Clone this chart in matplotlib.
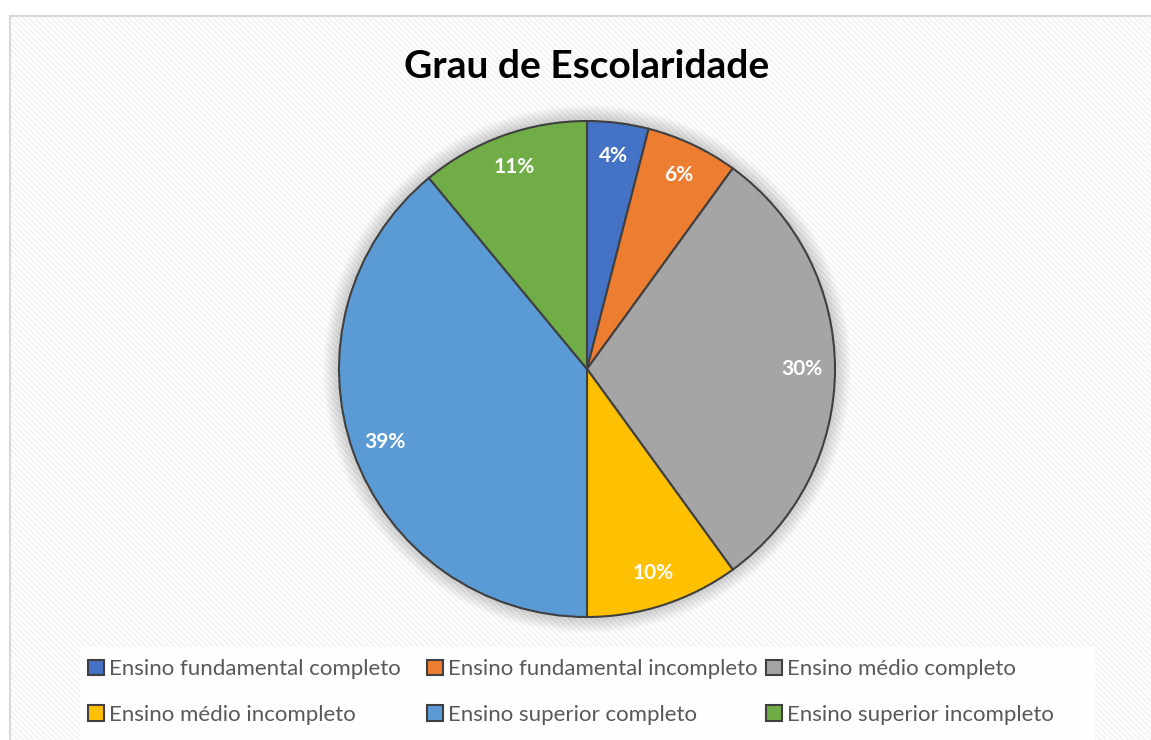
import matplotlib
matplotlib.use("Agg")
import matplotlib.pyplot as plt
from matplotlib.patches import Rectangle, Circle
from matplotlib.lines import Line2D

# dados
categorias = [
    "Ensino fundamental completo",
    "Ensino fundamental incompleto",
    "Ensino médio completo",
    "Ensino médio incompleto",
    "Ensino superior completo",
    "Ensino superior incompleto",
]
percentuais = [4, 6, 30, 10, 39, 11]
cores = ["#4472C4", "#ED7D31", "#A5A5A5", "#FFC000", "#5B9BD5", "#70AD47"]
titulo = "Grau de Escolaridade"

W, H = 1151, 740
plt.rcParams["font.family"] = ["Lato", "DejaVu Sans"]
plt.rcParams["hatch.linewidth"] = 1.3

fig = plt.figure(figsize=(W / 100, H / 100), dpi=100)
fig.patch.set_facecolor("white")

# area do grafico com padrao diagonal
fundo = Rectangle((10 / W, 0), 1 - 10 / W, 1 - 16 / H, transform=fig.transFigure,
                  facecolor="white", edgecolor="#f3f3f3", linewidth=0,
                  hatch="\\" * 6, zorder=-2)
fig.patches.append(fundo)
fig.add_artist(Line2D([10 / W, 1], [1 - 16 / H, 1 - 16 / H], transform=fig.transFigure,
                      color="#d9d9d9", linewidth=1.5))
fig.add_artist(Line2D([10 / W, 10 / W], [0, 1 - 16 / H], transform=fig.transFigure,
                      color="#d9d9d9", linewidth=1.5))

# caixa da legenda
caixa = Rectangle((80 / W, 0), 1015 / W, (740 - 647) / H, transform=fig.transFigure,
                  facecolor="#fefefe", edgecolor="none", zorder=-1)
fig.patches.append(caixa)

cx, cy, r = 587, 369, 248
half = 300
ax = fig.add_axes([(cx - half) / W, (H - cy - half) / H, 2 * half / W, 2 * half / H])

# sombra suave
for k in range(14):
    ax.add_patch(Circle((0, 0), r + 16 - k, facecolor="black", alpha=0.012,
                        edgecolor="none", zorder=0))

wedges, texts, autotexts = ax.pie(
    percentuais, colors=cores, radius=r, startangle=90, counterclock=False,
    autopct="%1.0f%%", pctdistance=0.865,
    wedgeprops=dict(edgecolor="#404040", linewidth=1.5),
    textprops=dict(color="white", fontsize=15, fontweight="bold"),
)
for w in wedges:
    w.set_zorder(2)
for t in autotexts:
    t.set_zorder(3)
ax.set_xlim(-half, half)
ax.set_ylim(-half, half)
ax.set_aspect("equal")
ax.axis("off")

fig.text(cx / W, 1 - 66 / H, titulo, ha="center", va="center",
         fontsize=28, fontweight="bold", color="black")

# legenda em tres colunas de mesma largura
col_x = [88, 427, 766]
for j, x in enumerate(col_x):
    idx = [j, j + 3]
    fig.legend([wedges[i] for i in idx], [categorias[i] for i in idx],
               loc="center left", bbox_to_anchor=(x / W, 1 - 692 / H),
               borderpad=0, borderaxespad=0, frameon=False, fontsize=16,
               handlelength=0.7, handleheight=0.7, handletextpad=0.25,
               labelspacing=1.15, labelcolor="#595959")

fig.savefig("out.png", dpi=100)
